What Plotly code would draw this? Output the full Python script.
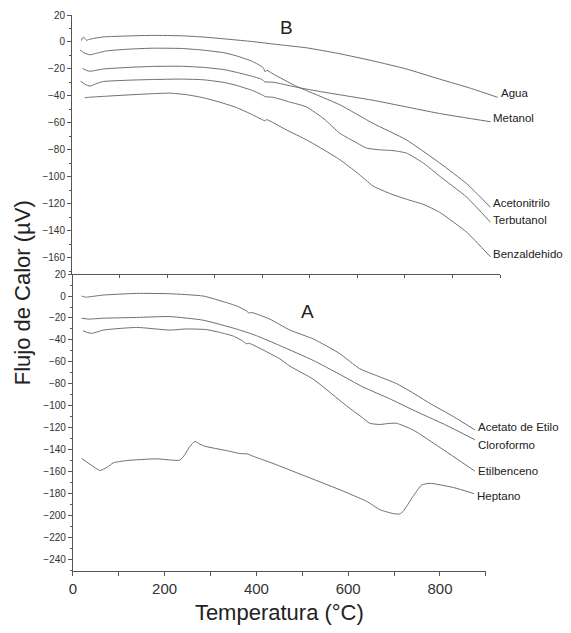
import plotly.graph_objects as go

# ---------------- data ----------------
# Panel B
agua_x = [20, 22, 25, 28, 31, 35, 45, 65, 120, 170, 230, 275, 330, 380, 440, 493, 560, 633, 703, 773, 840, 895]
agua_y = [1.0, 3.0, 3.5, 2.2, 1.2, 1.8, 2.6, 3.7, 4.5, 4.9, 4.6, 3.7, 2.0, 0.3, -2.2, -4.3, -8.5, -14.0, -20.0, -27.5, -34.5, -41.0]

acetonitrilo_x = [17, 25, 38, 50, 73, 120, 170, 230, 275, 320, 346, 380, 402, 406, 410, 423, 470, 493, 563, 633, 703, 773, 830, 880]
acetonitrilo_y = [-5.9, -8.0, -9.5, -8.5, -6.6, -5.3, -4.6, -4.8, -6.0, -8.0, -10.3, -14.5, -19.0, -22.0, -21.0, -23.7, -32.5, -36.0, -46.5, -60.3, -72.5, -89.6, -105.0, -122.5]

metanol_x = [22, 30, 38, 50, 66, 120, 171, 230, 276, 320, 346, 380, 400, 405, 423, 472, 528, 633, 773, 880]
metanol_y = [-19.5, -21.0, -21.7, -21.0, -20.0, -18.8, -18.1, -18.0, -18.8, -20.5, -22.5, -25.5, -27.8, -29.5, -29.8, -33.5, -37.1, -43.2, -53.0, -59.1]

terbutanol_x = [18, 28, 38, 50, 66, 120, 171, 230, 276, 320, 346, 380, 402, 406, 423, 458, 493, 530, 563, 600, 619, 647, 675, 703, 740, 773, 830, 880]
terbutanol_y = [-29.0, -31.5, -32.7, -31.0, -29.3, -28.3, -27.8, -27.5, -28.0, -30.0, -32.2, -36.0, -39.6, -40.5, -41.0, -44.5, -48.1, -57.0, -67.6, -75.0, -78.6, -79.9, -80.5, -82.3, -90.0, -99.4, -115.0, -133.6]

benzaldehido_x = [27, 35, 66, 120, 171, 206, 240, 276, 310, 346, 380, 402, 406, 409, 450, 493, 530, 563, 600, 633, 670, 703, 740, 773, 830, 880]
benzaldehido_y = [-41.3, -41.0, -40.3, -39.2, -38.3, -37.9, -39.0, -41.3, -44.5, -48.6, -54.0, -57.9, -58.5, -57.5, -65.0, -72.5, -80.0, -87.2, -97.0, -106.7, -112.5, -116.5, -120.5, -126.2, -141.0, -159.2]

# Panel A
acetato_x = [19, 25, 30, 40, 66, 139, 211, 284, 335, 360, 378, 384, 390, 429, 473, 524, 580, 625, 665, 705, 740, 778, 830, 876]
acetato_y = [0.0, -0.8, -1.0, -0.5, 0.9, 2.4, 2.1, 0.0, -6.0, -9.5, -13.5, -15.5, -15.0, -21.0, -31.0, -39.1, -52.0, -66.2, -73.0, -79.7, -88.0, -97.8, -110.0, -121.9]

cloroformo_x = [19, 35, 66, 139, 211, 284, 357, 400, 451, 524, 580, 632, 690, 741, 810, 876]
cloroformo_y = [-20.2, -21.0, -20.2, -19.5, -18.7, -22.0, -30.1, -36.1, -45.1, -58.7, -71.0, -82.8, -93.5, -103.8, -117.0, -130.9]

etilbenceno_x = [22, 30, 41, 55, 66, 139, 211, 247, 290, 320, 350, 371, 378, 383, 390, 451, 473, 524, 596, 630, 647, 669, 690, 705, 741, 800, 876]
etilbenceno_y = [-31.6, -33.0, -34.0, -32.5, -31.0, -28.6, -31.0, -30.0, -30.5, -33.1, -36.5, -41.2, -43.5, -43.0, -44.0, -57.2, -63.9, -75.8, -99.9, -110.5, -115.9, -117.0, -116.0, -115.9, -121.9, -138.0, -159.5]

heptano_x = [19, 40, 59, 75, 88, 117, 182, 233, 244, 255, 266, 277, 288, 335, 364, 380, 393, 436, 500, 582, 640, 669, 698, 712, 720, 741, 760, 778, 830, 874]
heptano_y = [-148.0, -154.0, -158.9, -156.0, -152.0, -149.9, -148.3, -149.5, -144.5, -137.0, -132.4, -135.0, -136.9, -140.8, -143.5, -143.8, -146.0, -152.5, -163.0, -176.5, -187.0, -194.6, -198.2, -198.5, -196.0, -182.7, -172.2, -170.6, -174.5, -180.0]

panel_b_names = ["Agua", "Metanol", "Acetonitrilo", "Terbutanol", "Benzaldehido"]
panel_a_names = ["Acetato de Etilo", "Cloroformo", "Etilbenceno", "Heptano"]

x_tick_values = [0, 100, 200, 300, 400, 500, 600, 700, 800, 900]
x_tick_labels = ["0", "", "200", "", "400", "", "600", "", "800", ""]
y_ticks_b = [20, 0, -20, -40, -60, -80, -100, -120, -140, -160]
y_ticks_a = [20, 0, -20, -40, -60, -80, -100, -120, -140, -160, -180, -200, -220, -240]

panel_titles = ["B", "A"]
x_title = "Temperatura (°C)"
y_title = "Flujo de Calor (µV)"

# ---------------- styling ----------------
LINE = "#6e6e6e"
AX = "#555555"
FONT = "Liberation Sans, Arial, sans-serif"

series_b = {
    "Agua": (agua_x, agua_y),
    "Metanol": (metanol_x, metanol_y),
    "Acetonitrilo": (acetonitrilo_x, acetonitrilo_y),
    "Terbutanol": (terbutanol_x, terbutanol_y),
    "Benzaldehido": (benzaldehido_x, benzaldehido_y),
}
series_a = {
    "Acetato de Etilo": (acetato_x, acetato_y),
    "Cloroformo": (cloroformo_x, cloroformo_y),
    "Etilbenceno": (etilbenceno_x, etilbenceno_y),
    "Heptano": (heptano_x, heptano_y),
}
label_shift = {"Agua": 4, "Metanol": 4, "Acetonitrilo": 4, "Terbutanol": 2, "Benzaldehido": 3,
               "Acetato de Etilo": 3, "Cloroformo": -5, "Etilbenceno": 0, "Heptano": -2}
LABEL_SIZE = 11.5

fig = go.Figure()
annotations = []
for name in panel_b_names:
    xs, ys = series_b[name]
    fig.add_trace(go.Scatter(x=xs, y=ys, mode="lines", name=name, xaxis="x2", yaxis="y2",
                             line=dict(color=LINE, width=1, shape="spline", smoothing=0.5), showlegend=False))
    annotations.append(dict(x=xs[-1], y=ys[-1], xref="x2", yref="y2", text=name, showarrow=False,
                            xanchor="left", yanchor="middle", xshift=1, yshift=label_shift[name],
                            font=dict(family=FONT, size=LABEL_SIZE, color="#222")))
for name in panel_a_names:
    xs, ys = series_a[name]
    fig.add_trace(go.Scatter(x=xs, y=ys, mode="lines", name=name, xaxis="x", yaxis="y",
                             line=dict(color=LINE, width=1, shape="spline", smoothing=0.5), showlegend=False))
    annotations.append(dict(x=xs[-1], y=ys[-1], xref="x", yref="y", text=name, showarrow=False,
                            xanchor="left", yanchor="middle", xshift=1, yshift=label_shift[name],
                            font=dict(family=FONT, size=LABEL_SIZE, color="#222")))

annotations.append(dict(x=452, y=11, xref="x2", yref="y2", text=panel_titles[0], showarrow=False,
                        font=dict(family=FONT, size=19, color="#222")))
annotations.append(dict(x=512, y=-14, xref="x", yref="y", text=panel_titles[1], showarrow=False,
                        font=dict(family=FONT, size=19, color="#222")))
annotations.append(dict(x=-0.15, y=0.5, xref="paper", yref="paper", text=y_title, showarrow=False,
                        textangle=-90, font=dict(family=FONT, size=22, color="#222")))

common_y = dict(showline=True, linecolor=AX, linewidth=1, ticks="outside", ticklen=4, tickcolor=AX,
                showgrid=False, zeroline=False, tickfont=dict(family=FONT, size=10, color="#333"),
                minor=dict(dtick=10, ticks="outside", ticklen=2, tickcolor=AX))

SPLIT = 0.534
fig.update_layout(
    width=563, height=617,
    margin=dict(l=64, r=71, t=1, b=54),
    paper_bgcolor="white", plot_bgcolor="white",
    annotations=annotations,
    xaxis=dict(domain=[0.002, 0.967], range=[0, 900], anchor="y", showline=True, linecolor=AX, linewidth=1,
               ticks="outside", ticklen=4, tickcolor=AX, tickvals=x_tick_values, ticktext=x_tick_labels,
               showgrid=False, zeroline=False, tickfont=dict(family=FONT, size=15, color="#333"),
               title=dict(text=x_title, font=dict(family=FONT, size=22, color="#222"), standoff=8)),
    yaxis=dict(domain=[0, SPLIT], range=[-250.5, 20], anchor="x", tickvals=y_ticks_a, **common_y),
    xaxis2=dict(domain=[0, 1], range=[0, 900], anchor="y2", showline=True, linecolor=AX, linewidth=1,
                ticks="outside", ticklen=3, tickcolor=AX, tickvals=x_tick_values, showticklabels=False,
                showgrid=False, zeroline=False),
    yaxis2=dict(domain=[SPLIT, 1.0], range=[-172, 20], anchor="x2", tickvals=y_ticks_b, **common_y),
)

fig.write_html("out.html")
